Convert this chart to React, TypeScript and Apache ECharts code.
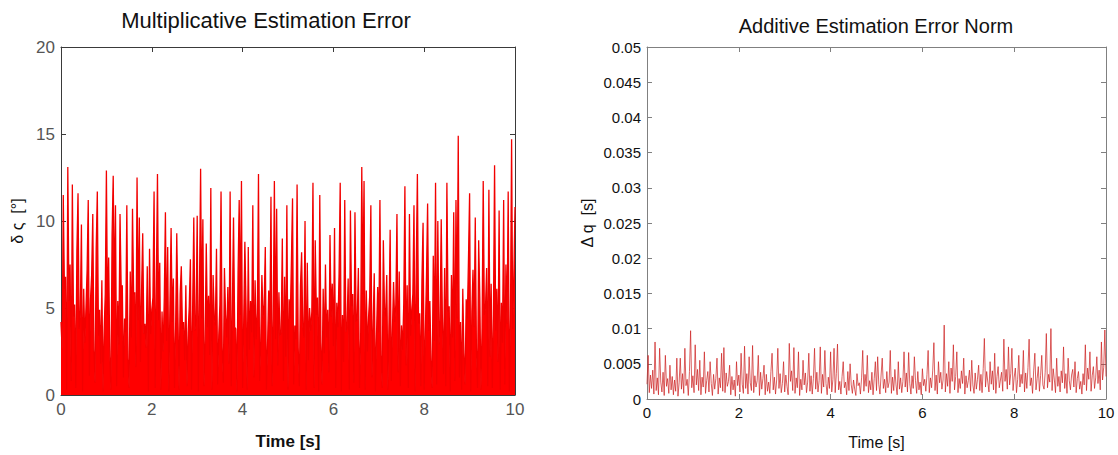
import React, { useEffect, useRef } from "react";
import * as echarts from "echarts";

// Multiplicative estimation error (degrees), sampled every 0.025 s from 0 to 10 s
const multiplicativeError: number[] = [
  4.2, 2.6, 11.5, 6.1, 6.8, 0.3, 13.1, 5.4, 7.5, 0.8,
  12.1, 4.5, 5.2, 0.4, 8.3, 11.6, 3.8, 4.6, 9.8, 0.2,
  6.1, 3.0, 5.0, 7.2, 11.2, 1.1, 5.5, 6.9, 10.4, 2.6,
  0.7, 8.4, 11.7, 3.4, 4.9, 1.8, 6.6, 0.2, 3.7, 5.8,
  12.9, 4.6, 7.9, 2.2, 0.3, 9.2, 12.6, 5.4, 10.9, 0.5,
  5.4, 2.9, 10.4, 6.2, 6.3, 1.0, 4.4, 3.6, 10.9, 2.1,
  0.4, 7.1, 3.3, 10.7, 5.8, 5.9, 1.6, 12.5, 4.3, 10.2,
  1.9, 6.0, 9.3, 3.5, 4.1, 2.7, 7.4, 0.2, 8.4, 3.5,
  4.9, 5.6, 11.7, 0.4, 6.4, 12.7, 4.3, 7.6, 0.3, 4.8,
  2.5, 5.6, 10.5, 3.1, 8.5, 0.2, 5.3, 9.6, 4.2, 6.7,
  0.4, 3.9, 9.3, 4.7, 0.3, 5.8, 7.4, 3.8, 4.2, 2.0,
  6.3, 0.5, 3.6, 5.1, 7.8, 0.3, 5.0, 10.2, 3.7, 4.4,
  10.3, 0.2, 6.1, 13.0, 4.4, 10.1, 0.5, 3.2, 8.7, 3.9,
  5.7, 2.3, 11.9, 0.3, 6.9, 4.5, 4.0, 8.4, 0.6, 3.4,
  5.2, 11.7, 2.8, 0.7, 7.3, 4.6, 3.3, 6.2, 1.8, 11.7,
  0.5, 5.1, 10.2, 3.9, 3.8, 0.2, 7.0, 11.2, 4.6, 12.3,
  0.4, 4.3, 8.8, 5.2, 0.3, 8.5, 2.6, 5.4, 3.6, 10.9,
  1.0, 6.6, 3.2, 4.7, 12.7, 0.8, 3.1, 6.9, 4.4, 5.2,
  8.5, 0.3, 2.9, 6.0, 4.1, 11.4, 0.5, 4.5, 12.3, 3.2,
  10.7, 1.7, 5.9, 3.4, 3.6, 9.0, 0.8, 6.8, 2.2, 10.9,
  0.3, 5.5, 4.4, 7.7, 11.3, 0.6, 4.0, 3.2, 12.1, 2.7,
  0.5, 6.3, 8.2, 4.0, 3.3, 10.0, 0.3, 7.6, 2.0, 5.0,
  3.7, 4.8, 12.2, 0.4, 8.9, 4.6, 5.6, 0.2, 11.5, 3.0,
  0.6, 6.1, 2.4, 7.5, 3.3, 4.9, 1.3, 9.2, 4.5, 6.4,
  2.8, 9.6, 0.4, 5.3, 3.9, 7.0, 12.2, 0.2, 4.6, 1.9,
  11.2, 3.6, 3.9, 6.7, 0.3, 10.6, 5.1, 5.8, 0.7, 10.5,
  4.2, 4.4, 7.3, 0.4, 3.2, 13.1, 5.8, 12.3, 0.3, 6.0,
  2.5, 4.5, 5.7, 10.9, 1.0, 4.1, 7.0, 0.2, 3.5, 6.2,
  3.6, 11.2, 2.3, 0.4, 8.9, 5.0, 4.5, 6.9, 0.3, 4.3,
  9.5, 0.8, 3.7, 6.5, 4.2, 5.2, 10.4, 1.3, 7.1, 0.5,
  4.0, 2.6, 5.3, 12.0, 1.7, 6.3, 0.4, 10.4, 3.4, 4.9,
  5.8, 10.9, 0.2, 7.4, 12.7, 4.1, 4.7, 0.5, 6.6, 9.9,
  0.3, 3.6, 6.8, 11.0, 3.7, 5.4, 2.0, 0.4, 8.0, 3.1,
  12.2, 0.6, 10.0, 2.9, 4.3, 10.1, 4.5, 1.2, 7.3, 0.5,
  12.2, 4.8, 5.1, 0.2, 6.9, 3.3, 10.5, 0.8, 11.2, 4.4,
  14.9, 1.0, 4.2, 0.3, 6.1, 2.4, 0.6, 5.5, 4.4, 7.8,
  11.6, 0.2, 4.8, 7.2, 3.9, 10.2, 2.7, 0.4, 8.9, 5.6,
  0.3, 3.9, 12.3, 4.6, 5.0, 7.3, 0.5, 11.8, 2.2, 6.4,
  0.4, 4.6, 13.2, 3.7, 6.1, 1.9, 10.6, 0.3, 5.3, 3.0,
  11.2, 0.6, 7.5, 4.1, 11.7, 0.2, 4.4, 14.7, 3.8, 6.9,
  10.8,
];

// Additive estimation error norm, sampled every 0.025 s from 0 to 10 s
const additiveError: number[] = [
  0.0021, 0.0062, 0.0009, 0.0034, 0.0015, 0.0041, 0.0007, 0.0081, 0.0012, 0.0030,
  0.0006, 0.0072, 0.0024, 0.0010, 0.0038, 0.0005, 0.0062, 0.0018, 0.0029, 0.0008,
  0.0048, 0.0013, 0.0032, 0.0006, 0.0027, 0.0011, 0.0058, 0.0004, 0.0023, 0.0058,
  0.0014, 0.0036, 0.0008, 0.0072, 0.0019, 0.0028, 0.0005, 0.0039, 0.0097, 0.0016,
  0.0033, 0.0009, 0.0077, 0.0020, 0.0042, 0.0012, 0.0055, 0.0006, 0.0031, 0.0017,
  0.0067, 0.0008, 0.0026, 0.0039, 0.0010, 0.0053, 0.0022, 0.0005, 0.0035, 0.0014,
  0.0029, 0.0058, 0.0007, 0.0030, 0.0016, 0.0065, 0.0011, 0.0073, 0.0009, 0.0037,
  0.0018, 0.0025, 0.0048, 0.0006, 0.0032, 0.0013, 0.0027, 0.0004, 0.0053, 0.0019,
  0.0034, 0.0010, 0.0065, 0.0021, 0.0008, 0.0075, 0.0015, 0.0036, 0.0007, 0.0060,
  0.0023, 0.0012, 0.0076, 0.0009, 0.0033, 0.0017, 0.0026, 0.0062, 0.0005, 0.0038,
  0.0014, 0.0029, 0.0048, 0.0006, 0.0035, 0.0011, 0.0024, 0.0008, 0.0039, 0.0065,
  0.0013, 0.0031, 0.0007, 0.0027, 0.0072, 0.0015, 0.0036, 0.0009, 0.0022, 0.0053,
  0.0010, 0.0034, 0.0018, 0.0006, 0.0079, 0.0025, 0.0040, 0.0012, 0.0073, 0.0008,
  0.0030, 0.0016, 0.0067, 0.0005, 0.0028, 0.0013, 0.0055, 0.0020, 0.0037, 0.0009,
  0.0024, 0.0065, 0.0011, 0.0033, 0.0007, 0.0029, 0.0072, 0.0014, 0.0038, 0.0010,
  0.0026, 0.0074, 0.0008, 0.0035, 0.0017, 0.0069, 0.0022, 0.0006, 0.0031, 0.0015,
  0.0067, 0.0010, 0.0028, 0.0072, 0.0009, 0.0036, 0.0078, 0.0013, 0.0025, 0.0007,
  0.0032, 0.0053, 0.0016, 0.0024, 0.0006, 0.0039, 0.0012, 0.0050, 0.0020, 0.0008,
  0.0027, 0.0014, 0.0005, 0.0036, 0.0019, 0.0023, 0.0007, 0.0030, 0.0069, 0.0011,
  0.0035, 0.0018, 0.0062, 0.0009, 0.0026, 0.0013, 0.0038, 0.0006, 0.0029, 0.0053,
  0.0012, 0.0060, 0.0021, 0.0007, 0.0034, 0.0058, 0.0015, 0.0028, 0.0009, 0.0039,
  0.0016, 0.0024, 0.0069, 0.0008, 0.0031, 0.0012, 0.0042, 0.0020, 0.0006, 0.0053,
  0.0014, 0.0030, 0.0009, 0.0025, 0.0067, 0.0017, 0.0037, 0.0010, 0.0066, 0.0022,
  0.0007, 0.0033, 0.0015, 0.0060, 0.0026, 0.0008, 0.0039, 0.0013, 0.0024, 0.0006,
  0.0043, 0.0019, 0.0028, 0.0011, 0.0035, 0.0069, 0.0009, 0.0030, 0.0016, 0.0041,
  0.0080, 0.0012, 0.0034, 0.0007, 0.0053, 0.0023, 0.0038, 0.0014, 0.0027, 0.0105,
  0.0010, 0.0036, 0.0018, 0.0053, 0.0008, 0.0044, 0.0025, 0.0077, 0.0013, 0.0032,
  0.0067, 0.0009, 0.0029, 0.0015, 0.0040, 0.0022, 0.0058, 0.0007, 0.0033, 0.0016,
  0.0026, 0.0041, 0.0011, 0.0055, 0.0020, 0.0008, 0.0037, 0.0014, 0.0028, 0.0048,
  0.0012, 0.0035, 0.0009, 0.0043, 0.0086, 0.0017, 0.0039, 0.0024, 0.0010, 0.0053,
  0.0021, 0.0040, 0.0013, 0.0065, 0.0008, 0.0032, 0.0046, 0.0016, 0.0027, 0.0038,
  0.0011, 0.0085, 0.0025, 0.0042, 0.0014, 0.0074, 0.0020, 0.0036, 0.0072, 0.0012,
  0.0031, 0.0044, 0.0009, 0.0028, 0.0062, 0.0017, 0.0035, 0.0022, 0.0069, 0.0010,
  0.0037, 0.0015, 0.0045, 0.0085, 0.0019, 0.0030, 0.0008, 0.0041, 0.0065, 0.0013,
  0.0029, 0.0046, 0.0011, 0.0033, 0.0062, 0.0020, 0.0014, 0.0038, 0.0093, 0.0016,
  0.0035, 0.0024, 0.0100, 0.0012, 0.0043, 0.0027, 0.0009, 0.0058, 0.0018, 0.0032,
  0.0010, 0.0040, 0.0023, 0.0074, 0.0015, 0.0036, 0.0008, 0.0058, 0.0026, 0.0013,
  0.0034, 0.0042, 0.0017, 0.0053, 0.0009, 0.0029, 0.0039, 0.0014, 0.0025, 0.0007,
  0.0036, 0.0020, 0.0077, 0.0012, 0.0044, 0.0028, 0.0067, 0.0011, 0.0033, 0.0046,
  0.0015, 0.0030, 0.0060, 0.0022, 0.0041, 0.0013, 0.0081, 0.0027, 0.0045, 0.0098,
  0.0032,
];

const timeTicks = [0, 2, 4, 6, 8, 10];
const leftTitle = "Multiplicative Estimation Error";
const rightTitle = "Additive Estimation Error Norm";
const leftYName = "δ ς  [°]";
const rightYName = "Δ q  [s]";
const xName = "Time [s]";

const FONT = "'Liberation Sans', Arial, Helvetica, sans-serif";

function toPairs(values: number[]): [number, number][] {
  const tMax = timeTicks[timeTicks.length - 1];
  return values.map((v, i) => [(i * tMax) / (values.length - 1), v]);
}

export default function App() {
  const ref = useRef<HTMLDivElement>(null);

  useEffect(() => {
    if (!ref.current) return;
    const chart = echarts.init(ref.current, undefined, { renderer: "svg" });

    const leftAxisColor = "#3a3a3a";
    const rightAxisColor = "#808080";

    const boxAxisX = (grid: number, color: string) => ({
      type: "value" as const,
      gridIndex: grid,
      position: "top" as const,
      min: 0,
      max: 10,
      interval: 2,
      axisLine: { show: true, onZero: false, lineStyle: { color, width: 1 } },
      axisTick: { show: true, inside: true, length: 5, lineStyle: { color } },
      axisLabel: { show: false },
      splitLine: { show: false },
    });

    const boxAxisY = (grid: number, color: string, max: number, interval: number) => ({
      type: "value" as const,
      gridIndex: grid,
      position: "right" as const,
      min: 0,
      max,
      interval,
      axisLine: { show: true, onZero: false, lineStyle: { color, width: 1 } },
      axisTick: { show: true, inside: true, length: 5, lineStyle: { color } },
      axisLabel: { show: false },
      splitLine: { show: false },
    });

    const option: any = {
      animation: false,
      backgroundColor: "#ffffff",
      grid: [
        { left: 61, top: 47, width: 454, height: 353, containLabel: false },
        { left: 647, top: 47, width: 459, height: 357, containLabel: false },
      ],
      graphic: [
        {
          type: "text",
          x: 266,
          y: 20,
          style: {
            text: leftTitle,
            fontSize: 22,
            fontFamily: FONT,
            fill: "#111",
            align: "center",
            verticalAlign: "middle",
          },
        },
        {
          type: "text",
          x: 876,
          y: 26,
          style: {
            text: rightTitle,
            fontSize: 20,
            fontFamily: FONT,
            fill: "#111",
            align: "center",
            verticalAlign: "middle",
          },
        },
      ],
      xAxis: [
        {
          type: "value",
          gridIndex: 0,
          min: 0,
          max: 10,
          interval: 2,
          axisLine: { show: true, onZero: false, lineStyle: { color: leftAxisColor, width: 1 } },
          axisTick: { show: true, inside: true, length: 5, lineStyle: { color: leftAxisColor } },
          axisLabel: { fontSize: 17, color: "#555", fontFamily: FONT, margin: 6 },
          splitLine: { show: false },
          name: xName,
          nameLocation: "middle",
          nameGap: 38,
          nameTextStyle: { fontSize: 17, fontWeight: "bold", color: "#111", fontFamily: FONT },
        },
        boxAxisX(0, leftAxisColor),
        {
          type: "value",
          gridIndex: 1,
          min: 0,
          max: 10,
          interval: 2,
          axisLine: { show: true, onZero: false, lineStyle: { color: rightAxisColor, width: 1 } },
          axisTick: { show: true, inside: true, length: 5, lineStyle: { color: rightAxisColor } },
          axisLabel: { fontSize: 15, color: "#111", fontFamily: FONT, margin: 6 },
          splitLine: { show: false },
          name: xName,
          nameLocation: "middle",
          nameGap: 35,
          nameTextStyle: { fontSize: 16, color: "#111", fontFamily: FONT },
        },
        boxAxisX(1, rightAxisColor),
      ],
      yAxis: [
        {
          type: "value",
          gridIndex: 0,
          min: 0,
          max: 20,
          interval: 5,
          axisLine: { show: true, onZero: false, lineStyle: { color: leftAxisColor, width: 1 } },
          axisTick: { show: true, inside: true, length: 5, lineStyle: { color: leftAxisColor } },
          axisLabel: { fontSize: 17, color: "#555", fontFamily: FONT, margin: 6 },
          splitLine: { show: false },
          name: leftYName,
          nameLocation: "middle",
          nameGap: 36,
          nameRotate: 90,
          nameTextStyle: { fontSize: 16, color: "#111", fontFamily: FONT },
        },
        boxAxisY(0, leftAxisColor, 20, 5),
        {
          type: "value",
          gridIndex: 1,
          min: 0,
          max: 0.05,
          interval: 0.005,
          axisLine: { show: true, onZero: false, lineStyle: { color: rightAxisColor, width: 1 } },
          axisTick: { show: true, inside: true, length: 5, lineStyle: { color: rightAxisColor } },
          axisLabel: { fontSize: 15, color: "#111", fontFamily: FONT, margin: 6 },
          splitLine: { show: false },
          name: rightYName,
          nameLocation: "middle",
          nameGap: 52,
          nameRotate: 90,
          nameTextStyle: { fontSize: 16, color: "#111", fontFamily: FONT },
        },
        boxAxisY(1, rightAxisColor, 0.05, 0.005),
      ],
      series: [
        {
          type: "line",
          xAxisIndex: 0,
          yAxisIndex: 0,
          data: toPairs(multiplicativeError),
          showSymbol: false,
          symbol: "none",
          lineStyle: { color: "#f20000", width: 1.3 },
          areaStyle: { color: "#ff0000", opacity: 1 },
          z: 1,
        },
        {
          type: "line",
          xAxisIndex: 2,
          yAxisIndex: 2,
          data: toPairs(additiveError),
          showSymbol: false,
          symbol: "none",
          lineStyle: { color: "rgba(205, 35, 35, 0.8)", width: 0.9 },
          z: 1,
        },
      ],
    };

    chart.setOption(option);
    return () => {
      chart.dispose();
    };
  }, []);

  return (
    <div
      ref={ref}
      style={{ position: "absolute", left: 0, top: 0, width: 1118, height: 455, background: "#fff" }}
    />
  );
}
